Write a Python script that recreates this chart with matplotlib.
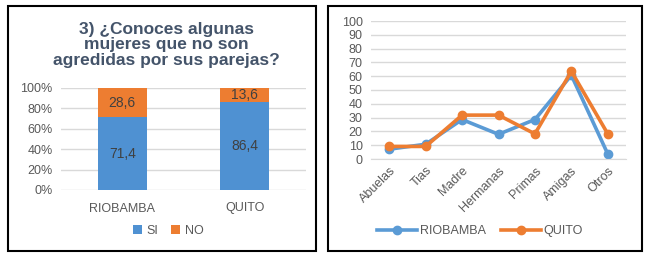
import matplotlib.pyplot as plt
from matplotlib.patches import Rectangle
import numpy as np

# left chart: stacked percent bars
cities = ['RIOBAMBA', 'QUITO']
si_values = [71.4, 86.4]
no_values = [28.6, 13.6]

# right chart: lines
relatives = ['Abuelas', 'Tias', 'Madre', 'Hermanas', 'Primas', 'Amigas', 'Otros']
riobamba = [7.1, 10.7, 28.6, 17.9, 28.6, 60.7, 3.6]
quito = [9.1, 9.1, 31.8, 31.8, 18.2, 63.6, 18.2]

BLUE = '#4F91D2'
ORANGE = '#ED7D31'
TEXT = '#595959'
GRID = '#D9D9D9'

W, H = 649, 260
fig = plt.figure(figsize=(W / 100, H / 100), dpi=100)
plt.rcParams['font.family'] = ['Liberation Sans', 'DejaVu Sans']


def px_axes(x0, y0, x1, y1):
    # pixel box (top-left origin) -> figure axes
    return fig.add_axes([x0 / W, 1 - y1 / H, (x1 - x0) / W, (y1 - y0) / H])


# panel borders
for x0, y0, x1, y1 in [(8, 6, 316, 251), (328, 6, 642, 251)]:
    fig.patches.append(Rectangle((x0 / W, 1 - y1 / H), (x1 - x0) / W, (y1 - y0) / H,
                                 transform=fig.transFigure, fill=False,
                                 edgecolor='black', linewidth=1.5))

# ---- left chart
ax = px_axes(61, 88, 306, 190)
x = np.arange(len(cities))
b1 = ax.bar(x, si_values, width=0.4, color=BLUE, label='SI')
b2 = ax.bar(x, no_values, width=0.4, bottom=si_values, color=ORANGE, label='NO')
for rect, v in zip(b1, si_values):
    ax.text(rect.get_x() + rect.get_width() / 2, rect.get_height() / 2, f'{v:.1f}'.replace('.', ','),
            ha='center', va='center', fontsize=10, color='#404040')
for rect, v, s in zip(b2, no_values, si_values):
    ax.text(rect.get_x() + rect.get_width() / 2, s + v / 2, f'{v:.1f}'.replace('.', ','),
            ha='center', va='center', fontsize=10, color='#404040')
ax.set_xlim(-0.5, 1.5)
ax.set_ylim(0, 100)
ax.set_yticks(range(0, 101, 20))
ax.set_yticklabels([f'{t}%' for t in range(0, 101, 20)])
ax.set_xticks(x)
ax.set_xticklabels(cities)
ax.yaxis.grid(True, color=GRID, linewidth=1)
ax.set_axisbelow(True)
for s in ax.spines.values():
    s.set_visible(False)
ax.tick_params(length=0, labelsize=9, colors=TEXT, pad=6)
ax.tick_params(axis='x', pad=9)
fig.text(166 / W, 1 - 45 / H, '3) ¿Conoces algunas\nmujeres que no son\nagredidas por sus parejas?',
         ha='center', va='center', fontsize=12.5, fontweight='bold', color='#44546A', linespacing=1.08)
fig.legend(handles=[b1, b2], loc='center', bbox_to_anchor=(168 / W, 1 - 231 / H), ncol=2,
           frameon=False, fontsize=9, labelcolor=TEXT, handlelength=0.7, handleheight=0.7,
           handletextpad=0.4, columnspacing=1.0)

# ---- right chart
ax2 = px_axes(371, 21, 626, 159)
xr = np.arange(len(relatives))
l1, = ax2.plot(xr, riobamba, color='#5B9BD5', linewidth=2.6, marker='o', markersize=6, label='RIOBAMBA')
l2, = ax2.plot(xr, quito, color=ORANGE, linewidth=2.6, marker='o', markersize=6, label='QUITO')
ax2.set_xlim(-0.5, len(relatives) - 0.5)
ax2.set_ylim(0, 100)
ax2.set_yticks(range(0, 101, 10))
ax2.set_xticks(xr)
ax2.set_xticklabels(relatives, rotation=45, ha='right', rotation_mode='anchor')
ax2.yaxis.grid(True, color=GRID, linewidth=1)
ax2.set_axisbelow(True)
for s in ax2.spines.values():
    s.set_visible(False)
ax2.spines['bottom'].set_visible(True)
ax2.spines['bottom'].set_color(GRID)
ax2.tick_params(length=0, labelsize=9, colors=TEXT, pad=6)
ax2.tick_params(axis='x', pad=4)
fig.legend(handles=[l1, l2], loc='center', bbox_to_anchor=(480 / W, 1 - 231 / H), ncol=2,
           frameon=False, fontsize=9, labelcolor=TEXT, handlelength=3.2,
           handletextpad=0.2, columnspacing=1.2)

fig.savefig('out.png', dpi=100)
